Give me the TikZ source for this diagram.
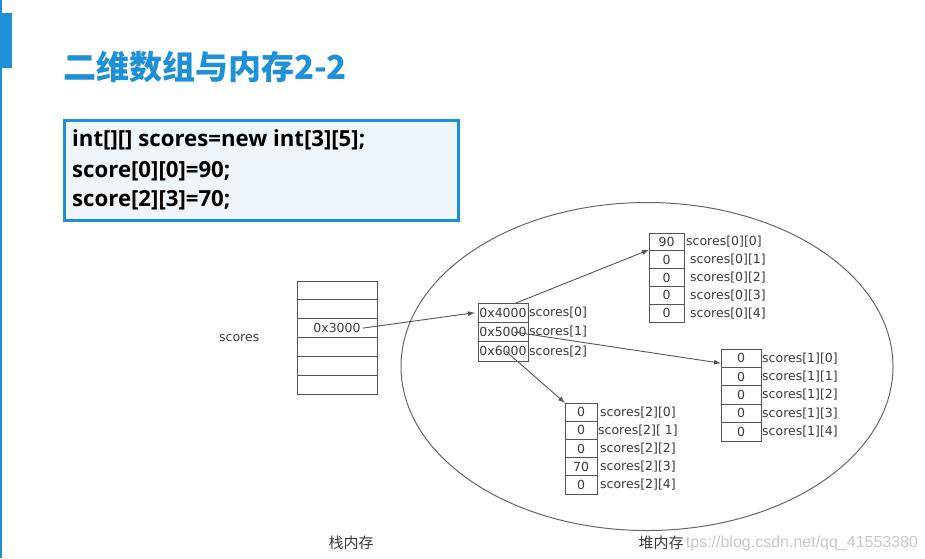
\documentclass[tikz,border=0pt]{standalone}
\usepackage{fontspec}
\usetikzlibrary{arrows.meta,shapes.geometric}
\setmainfont{DejaVu Sans}
\newfontfamily\cjkfont{Noto Sans CJK SC}
\newfontfamily\codefont{Open Sans}
\newfontfamily\markfont{Liberation Sans}
\definecolor{slideblue}{HTML}{1E90D7}
\definecolor{codefill}{HTML}{EEF5FB}
\definecolor{inkgray}{HTML}{3A3A3A}
\definecolor{linegray}{HTML}{555555}
\definecolor{markgray}{HTML}{C8C8C8}
\tikzset{
  cellbox/.style 2 args={draw=linegray, line width=0.9pt, minimum width=#1,
    minimum height=#2, inner sep=0pt, outer sep=0pt, anchor=north west,
    text=inkgray, font=\fontsize{12.5}{14}\selectfont},
  lbl/.style={anchor=west, inner sep=0pt, text=inkgray,
    font=\fontsize{12.5}{14}\selectfont},
  ptr/.style={draw=linegray, line width=0.9pt,
    -{Latex[length=7pt,width=5pt]}},
  codeline/.style={anchor=west, inner sep=0pt,
    font=\codefont\bfseries\fontsize{22.2}{26}\selectfont},
  cjklabel/.style={inner sep=1pt, text=inkgray,
    font=\cjkfont\fontsize{15}{18}\selectfont}
}
\begin{document}
\begin{tikzpicture}[x=1pt,y=-1pt]
\useasboundingbox (0,0) rectangle (925,558);
\fill[white] (0,0) rectangle (925,558);

% slide frame: edge line, tab and title
\fill[slideblue] (0,0) rectangle (1.6,558);
\fill[slideblue] (0,13) rectangle (12,68);
\node[anchor=west, inner sep=0pt, text=slideblue,
  font=\cjkfont\bfseries\fontsize{33}{38}\selectfont] (title) at (63,67)
  {二维数组与内存2-2};

% code box
\node[draw=slideblue, line width=3.2pt, fill=codefill, anchor=north west,
  minimum width=394pt, minimum height=100pt, inner sep=0pt] (code)
  at (62.5,118.5) {};
\node[codeline] (c1) at (72,140) {int[][] scores=new int[3][5];};
\node[codeline] (c2) at (72,171) {score[0][0]=90;};
\node[codeline] (c3) at (72,200) {score[2][3]=70;};

% stack memory
\node[lbl] (sname) at (219,338) {scores};
\foreach \i/\t in {1/{},2/{},3/0x3000,4/{},5/{},6/{}}
  \node[cellbox={80pt}{18.83pt}] (st\i) at (297,{281+(\i-1)*18.83}) {\t};
\node[cjklabel] (stack) at (351,543) {栈内存};

% heap memory
\node[draw=linegray!90, line width=1pt, ellipse, minimum width=492pt,
  minimum height=328pt, inner sep=0pt] (heap) at (647,366.5) {};

% array of row references
\foreach \i/\t/\k in {1/0x4000/0,2/0x5000/1,3/0x6000/2} {
  \node[cellbox={50pt}{19.33pt}] (p\i) at (478,{303+(\i-1)*19.33}) {\t};
  \node[lbl] (pl\i) at (529,{312.7+(\i-1)*19.33}) {scores[\k]};
}

% row 0
\foreach \i/\v in {1/90,2/0,3/0,4/0,5/0}
  \node[cellbox={35pt}{17.8pt}] (a0\i) at (649,{233+(\i-1)*17.8}) {\v};
\node[lbl] (la01) at (686,241.9) {scores[0][0]};
\foreach \i/\k in {2/1,3/2,4/3,5/4}
  \node[lbl] (la0\i) at (690,{241.9+(\i-1)*17.8}) {scores[0][\k]};

% row 1
\foreach \i/\k in {1/0,2/1,3/2,4/3,5/4} {
  \node[cellbox={40pt}{18.4pt}] (a1\i) at (721,{349+(\i-1)*18.4}) {0};
  \node[lbl] (la1\i) at (762,{358.2+(\i-1)*18.4}) {scores[1][\k]};
}

% row 2
\foreach \i/\v in {1/0,2/0,3/0,4/70,5/0}
  \node[cellbox={32pt}{18.2pt}] (a2\i) at (565,{403+(\i-1)*18.2}) {\v};
\node[lbl] (la21) at (600,412.1) {scores[2][0]};
\node[lbl] (la22) at (598,430.3) {scores[2][ 1]};
\node[lbl] (la23) at (600,448.5) {scores[2][2]};
\node[lbl] (la24) at (600,466.7) {scores[2][3]};
\node[lbl] (la25) at (600,484.9) {scores[2][4]};

% references
\draw[ptr] ([xshift=-14pt]st3.east) -- ([xshift=-3pt]p1.west);
\draw[ptr] ([xshift=-12pt]p1.north east) -- ([yshift=1pt]a01.south west);
\draw[ptr] ([xshift=-14pt]p2.east) -- ([yshift=-5pt]a11.west);
\draw[ptr] ([xshift=3pt]p3.center) -- (a21.north west);

% heap caption and source mark
\node[cjklabel] (heapname) at (661,543) {堆内存};
\node[anchor=west, inner sep=0pt, text=markgray,
  font=\markfont\fontsize{16}{18}\selectfont] (srcmark)
  at ([xshift=1pt]heapname.east) {tps://blog.csdn.net/qq\_41553380};
\end{tikzpicture}
\end{document}
